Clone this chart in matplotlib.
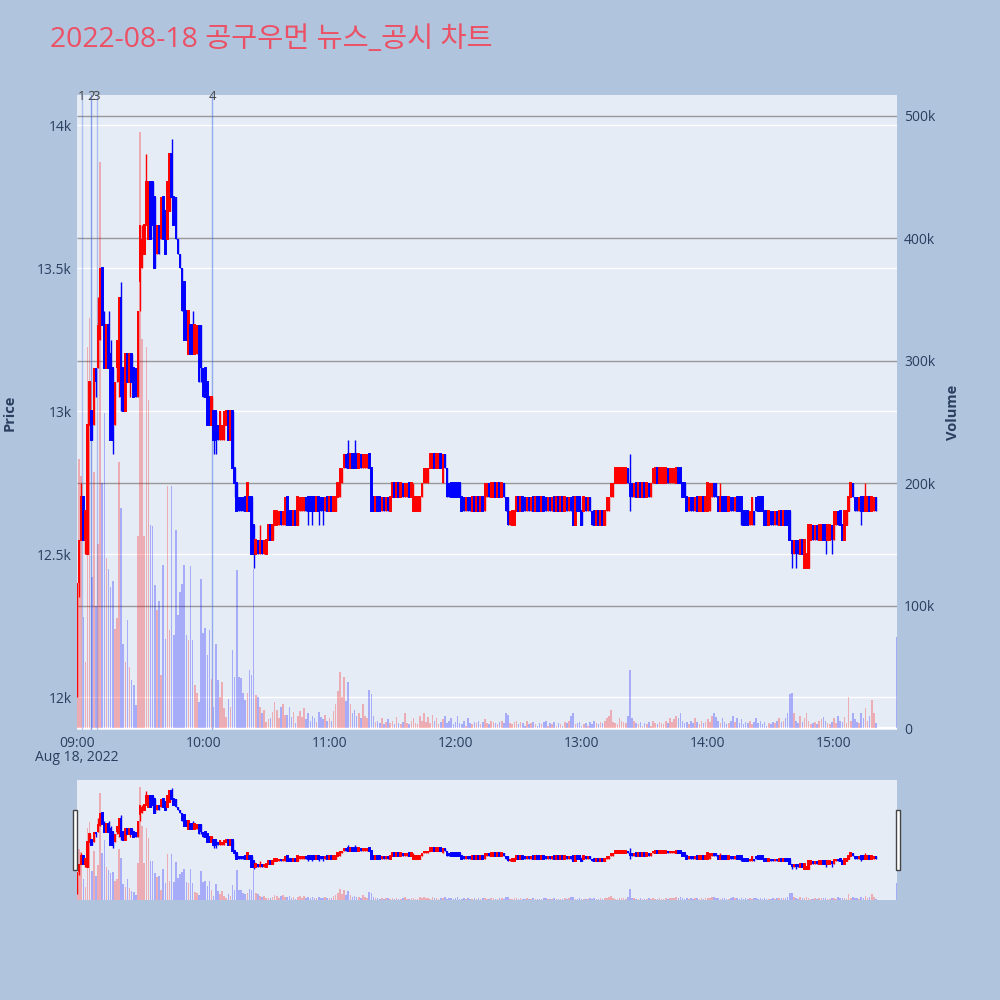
import numpy as np
import pandas as pd
import matplotlib
matplotlib.use('Agg')
import matplotlib.pyplot as plt
import matplotlib.dates as mdates
from matplotlib.ticker import FuncFormatter
from matplotlib.transforms import blended_transform_factory
from matplotlib.patches import Rectangle

plt.rcParams['font.family'] = ['Open Sans', 'Noto Sans CJK KR', 'DejaVu Sans']

title = '2022-08-18 공구우먼 뉴스_공시 차트'

# 1-minute candles 09:00 .. 15:20, then the 15:30 closing auction
opens = [
    12000, 12400, 12550, 12700, 12550, 12500, 12950, 13000, 12950, 13150,
    13150, 13250, 13500, 13300, 13150, 13300, 13200, 13150, 12950, 13150,
    13100, 13400, 13150, 13000, 13200, 13100, 13200, 13150, 13150, 13050,
    13450, 13500, 13550, 13650, 13600, 13800, 13800, 13750, 13550, 13650,
    13600, 13750, 13700, 13600, 13700, 13900, 13750, 13750, 13600, 13550,
    13500, 13450, 13350, 13200, 13300, 13300, 13200, 13200, 13300, 13300,
    13150, 13150, 13100, 13050, 12950, 13000, 13000, 12950, 12900, 12900,
    12900, 12950, 13000, 12900, 13000, 12800, 12750, 12700, 12700, 12700,
    12700, 12650, 12700, 12700, 12600, 12500, 12550, 12500, 12550, 12500,
    12500, 12550, 12600, 12550, 12600, 12600, 12600, 12650, 12600, 12600,
    12700, 12650, 12650, 12600, 12650, 12600, 12650, 12650, 12650, 12700,
    12700, 12700, 12700, 12700, 12650, 12700, 12700, 12700, 12650, 12700,
    12650, 12700, 12650, 12650, 12700, 12700, 12750, 12800, 12850, 12850,
    12800, 12850, 12850, 12850, 12800, 12850, 12800, 12800, 12800, 12850,
    12800, 12700, 12650, 12700, 12700, 12650, 12700, 12650, 12700, 12650,
    12700, 12750, 12700, 12750, 12700, 12750, 12700, 12700, 12750, 12700,
    12650, 12650, 12650, 12650, 12700, 12750, 12750, 12750, 12800, 12800,
    12850, 12800, 12800, 12850, 12750, 12850, 12800, 12750, 12750, 12750,
    12750, 12750, 12750, 12700, 12700, 12650, 12700, 12700, 12650, 12700,
    12650, 12700, 12650, 12700, 12650, 12700, 12750, 12700, 12700, 12750,
    12700, 12750, 12700, 12750, 12700, 12700, 12600, 12600, 12600, 12650,
    12700, 12650, 12700, 12700, 12650, 12700, 12650, 12700, 12650, 12700,
    12700, 12650, 12700, 12700, 12650, 12700, 12650, 12700, 12650, 12700,
    12650, 12700, 12650, 12700, 12650, 12700, 12700, 12600, 12700, 12700,
    12650, 12650, 12700, 12650, 12700, 12650, 12650, 12600, 12650, 12600,
    12650, 12600, 12650, 12650, 12700, 12700, 12750, 12750, 12750, 12750,
    12750, 12750, 12800, 12750, 12750, 12700, 12750, 12700, 12750, 12700,
    12750, 12700, 12750, 12700, 12750, 12750, 12800, 12750, 12750, 12750,
    12750, 12800, 12750, 12750, 12750, 12750, 12800, 12800, 12750, 12750,
    12700, 12650, 12700, 12700, 12650, 12700, 12650, 12650, 12700, 12650,
    12650, 12650, 12700, 12750, 12750, 12700, 12650, 12700, 12700, 12700,
    12650, 12700, 12700, 12650, 12700, 12700, 12700, 12650, 12650, 12650,
    12600, 12600, 12650, 12700, 12700, 12700, 12700, 12650, 12650, 12600,
    12650, 12650, 12600, 12650, 12600, 12650, 12600, 12650, 12650, 12650,
    12550, 12500, 12550, 12550, 12500, 12550, 12450, 12450, 12450, 12550,
    12600, 12550, 12600, 12550, 12550, 12600, 12600, 12550, 12550, 12600,
    12550, 12600, 12650, 12650, 12600, 12550, 12600, 12650, 12700, 12750,
    12700, 12700, 12650, 12700, 12700, 12650, 12650, 12700, 12650, 12650, 12700,
    12600,
]
closes = [
    12400, 12550, 12700, 12550, 12650, 12950, 13100, 12900, 13150, 13100,
    13300, 13500, 13300, 13150, 13300, 13150, 12900, 12900, 13100, 13250,
    13400, 13050, 13000, 13200, 13100, 13200, 13100, 13050, 13050, 13350,
    13650, 13600, 13650, 13800, 13800, 13600, 13650, 13500, 13650, 13550,
    13750, 13600, 13550, 13800, 13900, 13750, 13650, 13600, 13550, 13500,
    13350, 13250, 13250, 13350, 13200, 13200, 13300, 13300, 13100, 13150,
    13050, 13050, 12950, 12950, 13050, 12900, 12900, 12900, 13000, 12950,
    13000, 13000, 12900, 13000, 12800, 12750, 12650, 12650, 12650, 12650,
    12650, 12750, 12650, 12500, 12500, 12550, 12500, 12550, 12500, 12550,
    12550, 12600, 12550, 12600, 12650, 12650, 12650, 12600, 12650, 12700,
    12600, 12600, 12600, 12650, 12600, 12700, 12700, 12700, 12700, 12650,
    12650, 12650, 12650, 12650, 12700, 12650, 12650, 12650, 12700, 12650,
    12700, 12650, 12700, 12700, 12750, 12800, 12800, 12850, 12800, 12800,
    12850, 12800, 12800, 12800, 12850, 12800, 12850, 12850, 12850, 12800,
    12650, 12650, 12700, 12650, 12650, 12700, 12650, 12700, 12650, 12700,
    12750, 12700, 12750, 12700, 12750, 12700, 12750, 12750, 12700, 12750,
    12700, 12700, 12700, 12700, 12750, 12800, 12800, 12800, 12850, 12850,
    12800, 12850, 12850, 12800, 12850, 12800, 12700, 12700, 12700, 12700,
    12700, 12700, 12700, 12650, 12650, 12700, 12650, 12650, 12700, 12650,
    12700, 12650, 12700, 12650, 12750, 12750, 12700, 12750, 12750, 12700,
    12750, 12700, 12750, 12700, 12650, 12600, 12650, 12650, 12650, 12700,
    12650, 12700, 12650, 12650, 12700, 12650, 12700, 12650, 12700, 12650,
    12650, 12700, 12650, 12650, 12700, 12650, 12700, 12650, 12700, 12650,
    12700, 12650, 12700, 12650, 12700, 12650, 12600, 12700, 12650, 12650,
    12600, 12700, 12650, 12700, 12650, 12600, 12600, 12650, 12600, 12650,
    12600, 12650, 12700, 12700, 12750, 12750, 12800, 12800, 12800, 12800,
    12800, 12800, 12750, 12700, 12700, 12750, 12700, 12750, 12700, 12750,
    12700, 12750, 12700, 12750, 12800, 12800, 12750, 12800, 12800, 12800,
    12800, 12750, 12800, 12800, 12800, 12800, 12750, 12750, 12700, 12700,
    12650, 12700, 12650, 12650, 12700, 12650, 12700, 12700, 12650, 12700,
    12750, 12750, 12750, 12700, 12700, 12650, 12700, 12650, 12650, 12650,
    12700, 12650, 12650, 12700, 12650, 12650, 12650, 12600, 12600, 12600,
    12650, 12700, 12600, 12650, 12650, 12650, 12650, 12600, 12600, 12650,
    12600, 12600, 12650, 12600, 12650, 12600, 12650, 12600, 12600, 12550,
    12500, 12550, 12500, 12500, 12550, 12500, 12550, 12500, 12600, 12600,
    12550, 12600, 12550, 12600, 12600, 12550, 12550, 12600, 12600, 12550,
    12650, 12650, 12600, 12600, 12550, 12650, 12650, 12700, 12750, 12700,
    12650, 12650, 12700, 12650, 12650, 12700, 12700, 12650, 12700, 12700, 12650,
    12600,
]
highs = [
    12400, 12550, 12750, 12700, 12650, 12950, 13100, 13000, 13150, 13150,
    13400, 13500, 13500, 13350, 13300, 13350, 13250, 13150, 13100, 13250,
    13400, 13450, 13150, 13200, 13200, 13200, 13200, 13150, 13150, 13350,
    13650, 13650, 13650, 13900, 13800, 13800, 13800, 13750, 13650, 13650,
    13750, 13750, 13700, 13800, 13900, 13950, 13750, 13750, 13600, 13550,
    13500, 13450, 13350, 13350, 13300, 13350, 13300, 13300, 13300, 13300,
    13150, 13150, 13100, 13050, 13050, 13000, 13000, 12950, 13000, 12950,
    13000, 13000, 13000, 13000, 13000, 12800, 12750, 12700, 12700, 12700,
    12700, 12750, 12700, 12700, 12600, 12550, 12550, 12600, 12550, 12550,
    12550, 12600, 12600, 12600, 12650, 12650, 12650, 12650, 12650, 12700,
    12700, 12650, 12650, 12650, 12650, 12700, 12700, 12700, 12700, 12700,
    12700, 12700, 12700, 12700, 12700, 12700, 12700, 12700, 12700, 12700,
    12700, 12700, 12700, 12700, 12750, 12800, 12800, 12850, 12850, 12900,
    12850, 12850, 12900, 12850, 12850, 12850, 12850, 12850, 12850, 12850,
    12800, 12700, 12700, 12700, 12700, 12700, 12700, 12700, 12700, 12700,
    12750, 12750, 12750, 12750, 12750, 12750, 12750, 12750, 12750, 12750,
    12750, 12700, 12700, 12700, 12750, 12800, 12800, 12800, 12850, 12850,
    12850, 12850, 12850, 12850, 12850, 12850, 12800, 12750, 12750, 12750,
    12750, 12750, 12750, 12700, 12700, 12700, 12700, 12700, 12700, 12700,
    12700, 12700, 12700, 12700, 12750, 12750, 12750, 12750, 12750, 12750,
    12750, 12750, 12750, 12750, 12700, 12700, 12650, 12650, 12650, 12700,
    12700, 12700, 12700, 12700, 12700, 12700, 12700, 12700, 12700, 12700,
    12700, 12700, 12700, 12700, 12700, 12700, 12700, 12700, 12700, 12700,
    12700, 12700, 12700, 12700, 12700, 12700, 12700, 12700, 12700, 12700,
    12650, 12700, 12700, 12700, 12700, 12650, 12650, 12650, 12650, 12650,
    12650, 12650, 12700, 12700, 12750, 12750, 12800, 12800, 12800, 12800,
    12800, 12800, 12800, 12850, 12750, 12750, 12750, 12750, 12750, 12750,
    12750, 12750, 12750, 12750, 12800, 12800, 12800, 12800, 12800, 12800,
    12800, 12800, 12800, 12800, 12800, 12800, 12800, 12800, 12750, 12750,
    12700, 12700, 12700, 12700, 12700, 12700, 12700, 12700, 12700, 12700,
    12750, 12750, 12750, 12750, 12750, 12700, 12750, 12700, 12700, 12700,
    12700, 12700, 12700, 12700, 12700, 12700, 12700, 12650, 12650, 12650,
    12650, 12700, 12650, 12700, 12700, 12700, 12700, 12650, 12650, 12650,
    12650, 12650, 12650, 12650, 12650, 12650, 12650, 12650, 12650, 12650,
    12550, 12550, 12550, 12550, 12550, 12550, 12550, 12500, 12600, 12600,
    12600, 12600, 12600, 12600, 12600, 12600, 12600, 12600, 12600, 12600,
    12650, 12650, 12650, 12650, 12600, 12650, 12650, 12700, 12750, 12750,
    12700, 12700, 12700, 12700, 12700, 12750, 12700, 12700, 12700, 12700, 12700,
    12600,
]
lows = [
    12000, 12350, 12550, 12550, 12500, 12500, 12950, 12900, 12950, 13050,
    13150, 13250, 13300, 13150, 13150, 13150, 12900, 12850, 12950, 13100,
    13050, 13000, 13000, 13000, 13100, 13050, 13100, 13050, 13050, 13050,
    13350, 13500, 13550, 13650, 13600, 13600, 13650, 13500, 13550, 13550,
    13600, 13600, 13550, 13600, 13700, 13750, 13650, 13600, 13550, 13500,
    13350, 13250, 13250, 13200, 13200, 13200, 13200, 13200, 13100, 13100,
    13050, 13050, 12950, 12950, 12950, 12850, 12850, 12900, 12900, 12900,
    12900, 12950, 12900, 12900, 12800, 12700, 12650, 12650, 12650, 12650,
    12650, 12650, 12650, 12500, 12450, 12500, 12500, 12500, 12500, 12500,
    12500, 12550, 12550, 12550, 12600, 12600, 12600, 12600, 12600, 12600,
    12600, 12600, 12600, 12600, 12600, 12600, 12650, 12650, 12650, 12650,
    12600, 12650, 12600, 12650, 12650, 12600, 12650, 12600, 12650, 12650,
    12650, 12650, 12650, 12650, 12700, 12700, 12750, 12800, 12800, 12800,
    12800, 12800, 12800, 12800, 12800, 12800, 12800, 12800, 12800, 12800,
    12650, 12650, 12650, 12650, 12650, 12650, 12650, 12650, 12650, 12650,
    12700, 12700, 12700, 12700, 12700, 12700, 12700, 12700, 12700, 12700,
    12650, 12650, 12650, 12650, 12700, 12750, 12750, 12750, 12800, 12800,
    12800, 12800, 12800, 12800, 12750, 12800, 12700, 12700, 12700, 12700,
    12700, 12700, 12700, 12650, 12650, 12650, 12650, 12650, 12650, 12650,
    12650, 12650, 12650, 12650, 12650, 12700, 12700, 12700, 12700, 12700,
    12700, 12700, 12700, 12700, 12650, 12600, 12600, 12600, 12600, 12650,
    12650, 12650, 12650, 12650, 12650, 12650, 12650, 12650, 12650, 12650,
    12650, 12650, 12650, 12650, 12650, 12650, 12650, 12650, 12650, 12650,
    12650, 12650, 12650, 12650, 12650, 12650, 12600, 12600, 12650, 12650,
    12600, 12650, 12650, 12650, 12650, 12600, 12600, 12600, 12600, 12600,
    12600, 12600, 12650, 12650, 12700, 12700, 12750, 12750, 12750, 12750,
    12750, 12750, 12750, 12650, 12700, 12700, 12700, 12700, 12700, 12700,
    12700, 12700, 12700, 12700, 12750, 12750, 12750, 12750, 12750, 12750,
    12750, 12750, 12750, 12750, 12750, 12750, 12750, 12750, 12700, 12700,
    12650, 12650, 12650, 12650, 12650, 12650, 12650, 12650, 12650, 12650,
    12650, 12650, 12700, 12700, 12700, 12650, 12650, 12650, 12650, 12650,
    12650, 12650, 12650, 12650, 12650, 12650, 12600, 12600, 12600, 12600,
    12600, 12600, 12600, 12650, 12650, 12650, 12650, 12600, 12600, 12600,
    12600, 12600, 12600, 12600, 12600, 12600, 12600, 12600, 12600, 12550,
    12450, 12500, 12450, 12500, 12500, 12500, 12450, 12450, 12450, 12550,
    12550, 12550, 12550, 12550, 12550, 12550, 12500, 12550, 12550, 12500,
    12550, 12600, 12600, 12600, 12550, 12550, 12600, 12650, 12700, 12700,
    12650, 12650, 12650, 12600, 12650, 12650, 12650, 12650, 12650, 12650, 12650,
    12600,
]
# volume in thousands of shares
volume_k = [
    80, 220, 206, 91, 54, 311, 335, 123, 209, 100,
    150, 462, 200, 257, 139, 130, 115, 120, 81, 90,
    217, 180, 69, 54, 88, 50, 39, 35, 19, 157,
    487, 318, 157, 311, 268, 166, 165, 117, 96, 104,
    43, 133, 73, 198, 80, 198, 76, 162, 92, 111,
    118, 133, 76, 72, 132, 72, 35, 29, 21, 122,
    78, 82, 60, 80, 40, 17, 69, 39, 25, 38,
    16, 9, 24, 17, 64, 42, 129, 42, 41, 29,
    23, 29, 47, 43, 130, 27, 25, 17, 12, 15,
    5, 7, 8, 13, 21, 15, 8, 17, 20, 11,
    11, 17, 9, 13, 4, 10, 14, 9, 16, 7,
    12, 6, 10, 8, 5, 13, 9, 7, 11, 6,
    8, 6, 14, 20, 30, 46, 25, 42, 22, 38,
    20, 12, 15, 10, 12, 8, 20, 10, 8, 31,
    28, 10, 5, 6, 4, 8, 3, 5, 7, 4,
    6, 3, 9, 4, 3, 5, 12, 4, 3, 6,
    8, 4, 3, 10, 6, 12, 5, 9, 4, 11,
    6, 8, 3, 5, 7, 10, 4, 6, 8, 3,
    5, 10, 4, 3, 6, 2, 8, 4, 3, 5,
    4, 6, 3, 5, 7, 4, 3, 6, 5, 4,
    3, 5, 6, 4, 12, 11, 4, 3, 5, 6,
    3, 5, 4, 2, 6, 3, 4, 5, 3, 2,
    4, 3, 5, 6, 2, 4, 3, 5, 2, 4,
    3, 2, 5, 4, 6, 10, 12, 3, 4, 5,
    2, 3, 4, 2, 5, 3, 6, 4, 3, 5,
    4, 6, 8, 10, 15, 5, 4, 3, 8, 6,
    5, 4, 10, 47, 8, 6, 4, 3, 5, 2,
    4, 3, 5, 2, 6, 4, 3, 5, 4, 3,
    6, 4, 8, 5, 7, 10, 8, 12, 6, 4,
    5, 3, 6, 4, 8, 5, 3, 6, 4, 5,
    7, 5, 10, 12, 9, 6, 4, 8, 5, 3,
    4, 6, 10, 5, 8, 4, 7, 3, 5, 4,
    6, 3, 5, 8, 4, 6, 3, 5, 2, 4,
    3, 5, 4, 6, 8, 5, 6, 8, 12, 28,
    29, 12, 6, 4, 10, 5, 8, 12, 6, 3,
    4, 5, 3, 6, 7, 9, 6, 4, 3, 5,
    8, 4, 10, 6, 5, 9, 4, 25, 6, 12,
    7, 5, 4, 12, 8, 16, 6, 10, 23, 12, 4,
    74,
]

news_times = ['2022-08-18 09:02:10', '2022-08-18 09:06:40',
              '2022-08-18 09:09:20', '2022-08-18 10:04:20']
news_labels = ['1', '2', '3', '4']
news_alpha = [0.35, 0.6, 0.35, 0.5]

price_ticks = [12000, 12500, 13000, 13500, 14000]
vol_ticks = [0, 100000, 200000, 300000, 400000, 500000]

INC = '#ff0000'
DEC = '#0000ff'
PLOT_BG = '#e5ecf6'
PAPER_BG = '#b0c4de'
FONT_C = '#2a3f5f'

times = pd.date_range('2022-08-18 09:00', '2022-08-18 15:20', freq='min')
times = times.append(pd.DatetimeIndex(['2022-08-18 15:30']))
n = min(len(times), len(opens), len(closes), len(highs), len(lows), len(volume_k))
x = mdates.date2num(times[:n])
o = np.array(opens[:n], float)
c = np.array(closes[:n], float)
h = np.array(highs[:n], float)
l = np.array(lows[:n], float)
v = np.array(volume_k[:n], float) * 1000

up = c > o
cols = np.where(up, INC, DEC)
MIN = 1 / 1440.0

x0 = mdates.date2num(pd.Timestamp('2022-08-18 09:00'))
x1 = mdates.date2num(pd.Timestamp('2022-08-18 15:30'))
PLIM = (11885, 14105)
VLIM = (-1600, 517000)


def draw(ax_p, ax_v, grids=True):
    ax_v.set_zorder(0)
    ax_p.set_zorder(1)
    ax_p.patch.set_visible(False)
    ax_v.patch.set_visible(True)
    ax_v.patch.set_facecolor(PLOT_BG)
    if grids:
        tr = blended_transform_factory(ax_v.transAxes, ax_p.transData)
        ax_v.hlines(price_ticks, 0, 1, transform=tr, colors='white', lw=1.0, zorder=0.5)
        ax_v.hlines(vol_ticks[1:], 0, 1, transform=ax_v.get_yaxis_transform(),
                    colors='#999999', lw=1.0, zorder=0.6)
        ax_v.axhline(0, color='white', lw=1.6, zorder=0.7)
    ax_v.bar(x, v, width=0.75 * MIN, color=cols, alpha=0.27, linewidth=0, zorder=1)
    ax_p.vlines(x, l, h, colors=cols, lw=1.0, zorder=3)
    ax_p.bar(x, np.abs(c - o), width=0.3 * MIN, bottom=np.minimum(o, c),
             color=cols, edgecolor=cols, linewidth=1.4, zorder=4)
    ax_p.set_xlim(x0, x1)
    ax_p.set_ylim(*PLIM)
    ax_v.set_ylim(*VLIM)
    for a in (ax_p, ax_v):
        for s in a.spines.values():
            s.set_visible(False)


fig = plt.figure(figsize=(10, 10), dpi=100, facecolor=PAPER_BG)

ax = fig.add_axes([0.077, 0.27, 0.82, 0.635])
axv = ax.twinx()
draw(ax, axv)

ax.set_yticks(price_ticks)
ax.yaxis.set_major_formatter(FuncFormatter(lambda p, _: f'{p / 1000:g}k'))
axv.set_yticks(vol_ticks)
axv.yaxis.set_major_formatter(FuncFormatter(lambda q, _: '0' if q == 0 else f'{q / 1000:g}k'))
ax.xaxis.set_major_locator(mdates.HourLocator())
ax.xaxis.set_major_formatter(mdates.DateFormatter('%H:%M'))
ax.tick_params(axis='x', length=0, pad=4, labelsize=10, labelcolor=FONT_C)
ax.tick_params(axis='y', length=0, pad=4, labelsize=10, labelcolor=FONT_C)
axv.tick_params(axis='y', length=0, pad=5, labelsize=10, labelcolor=FONT_C)

bt = blended_transform_factory(ax.transData, ax.transAxes)
ax.text(x0, -0.044, 'Aug 18, 2022', transform=bt, ha='center', va='center',
        fontsize=10, color=FONT_C)

for t, lab, al in zip(news_times, news_labels, news_alpha):
    xt = mdates.date2num(pd.Timestamp(t))
    ax.axvline(xt, color='#4169e1', lw=1.0, alpha=al, zorder=2)
    ax.text(xt, 0.997, lab, transform=bt, ha='center', va='center',
            fontsize=9.5, color='#444444', clip_on=False)

fig.text(0.010, 0.5875, 'Price', rotation=90, ha='center', va='center',
         fontsize=10.5, fontweight='bold', color=FONT_C)
fig.text(0.953, 0.5875, 'Volume', rotation=90, ha='center', va='center',
         fontsize=10.5, fontweight='bold', color=FONT_C)
fig.text(0.05, 0.96, title, ha='left', va='center', fontsize=20.4, color='#ec5064')

# range slider
axs = fig.add_axes([0.077, 0.10, 0.82, 0.12])
axsv = axs.twinx()
draw(axs, axsv, grids=False)
for a in (axs, axsv):
    a.set_xticks([])
    a.set_yticks([])
for hx in (0.073, 0.896):
    fig.patches.append(Rectangle((hx, 0.13), 0.004, 0.06, transform=fig.transFigure,
                                 facecolor='white', edgecolor='#444444', lw=1.0))

fig.savefig('out.png', dpi=100, facecolor=PAPER_BG)
